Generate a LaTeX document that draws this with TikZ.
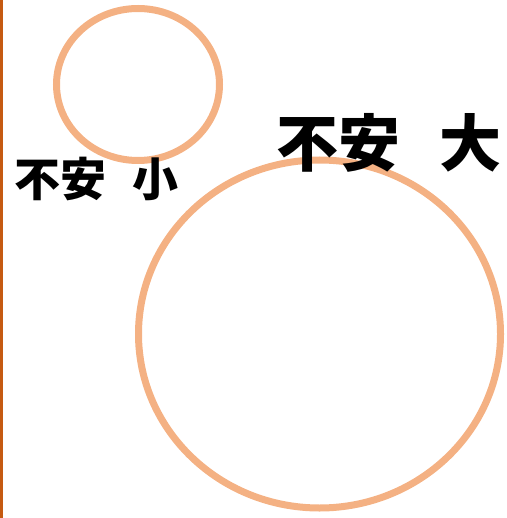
\documentclass[tikz,border=0pt]{standalone}
\usepackage{fontspec}
\usepackage{tikz}
\usetikzlibrary{shapes.geometric}
\usetikzlibrary{positioning}
\newfontfamily\cjk{Noto Sans CJK JP}
\definecolor{mpeach}{HTML}{F4B183}
\definecolor{mrust}{HTML}{C55A11}
\tikzset{
  ring/.style={ellipse, draw=mpeach, line width=7pt, inner sep=0pt, outer sep=0pt},
  worry/.style={inner sep=0pt, font=\cjk\bfseries}
}

\begin{document}
\begin{tikzpicture}[x=1pt, y=-1pt]
      \useasboundingbox (0, 0) rectangle (506, 518);
      \fill [mrust] (0, 0) rectangle (3, 518);

      \node [ring, minimum width=163pt, minimum height=152pt] (smallring) at (138, 84.5) {};
      \node [ring, minimum width=362pt, minimum height=348pt] (bigring) at (319.5, 334) {};

      \node [worry, font=\cjk\bfseries\fontsize{46}{46}\selectfont] (smalltext) at (96.5, 179) {不安\hspace{27pt}小};
      \node [worry, font=\cjk\bfseries\fontsize{62}{62}\selectfont] (bigtext) at (389, 143) {不安\hspace{40pt}大};
    \end{tikzpicture}
\end{document}
